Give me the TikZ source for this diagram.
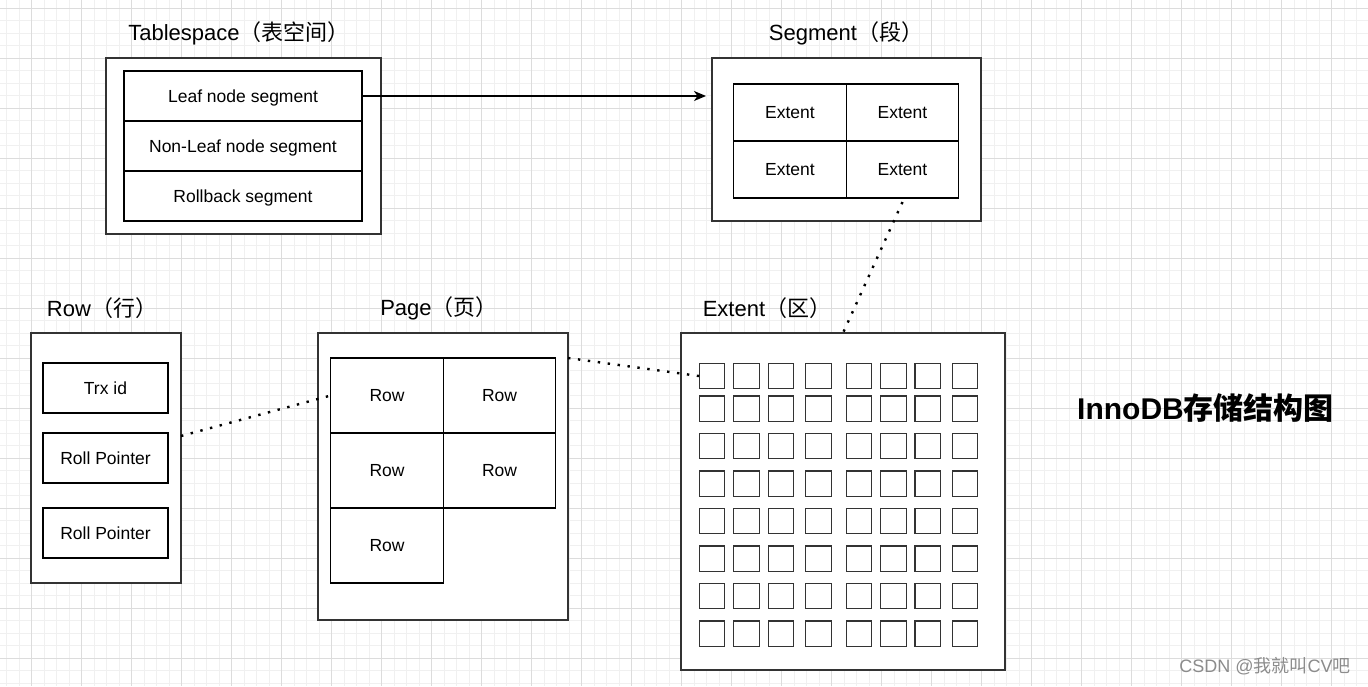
\documentclass[tikz,border=0pt]{standalone}
\usepackage{fontspec}
\setmainfont{Liberation Sans}
\newfontfamily\cjk{Noto Sans CJK SC}
\usetikzlibrary{arrows.meta}
\definecolor{gridminor}{HTML}{F0F0F0}
\definecolor{gridmajor}{HTML}{DCDCDC}
\definecolor{boxline}{HTML}{333333}
\tikzset{
  outerbox/.style={draw=boxline, line width=1.5pt, fill=white, inner sep=0pt, outer sep=0pt},
  cellbox/.style={draw=black, line width=1.1pt, fill=white, inner sep=0pt, outer sep=0pt,
    font=\fontsize{17.5}{20}\selectfont, text height=12.6pt, text depth=0pt},
  titletext/.style={font=\fontsize{22}{26}\selectfont, inner sep=0pt},
  sqbox/.style={draw=boxline, line width=1.3pt, fill=white, minimum size=25.5pt, inner sep=0pt, outer sep=0pt},
  dotline/.style={line width=2.4pt, dash pattern=on 2.4pt off 7.6pt},
  minorline/.style={draw=gridminor, line width=0.8pt},
  majorline/.style={draw=gridmajor, line width=0.9pt}
}
\begin{document}
\begin{tikzpicture}[x=1pt,y=-1pt]
\useasboundingbox (0,0) rectangle (1368,686);
\fill[white] (0,0) rectangle (1368,686);
% grid
\foreach \i in {0,...,109} {\draw[minorline] ({6.7+12.5*\i},0) -- ({6.7+12.5*\i},686);}
\foreach \i in {0,...,54} {\draw[minorline] (0,{8+12.5*\i}) -- (1368,{8+12.5*\i});}
\foreach \i in {0,...,27} {\draw[majorline] ({31.7+50*\i},0) -- ({31.7+50*\i},686);}
\foreach \i in {0,...,13} {\draw[majorline] (0,{8+50*\i}) -- (1368,{8+50*\i});}

% Tablespace
\node[titletext] (tstitle) at (239,33.5) {Tablespace{\cjk（表空间）}};
\node[outerbox, minimum width=275pt, minimum height=176pt] (tsbox) at (243.5,146) {};
\node[cellbox, minimum width=238pt, minimum height=50pt] (leaf) at (243,96) {Leaf node segment};
\node[cellbox, minimum width=238pt, minimum height=50pt] (nonleaf) at (243,146) {Non-Leaf node segment};
\node[cellbox, minimum width=238pt, minimum height=50pt] (rollback) at (243,196) {Rollback segment};

% Segment
\node[titletext] (segtitle) at (846,33.5) {Segment{\cjk（段）}};
\node[outerbox, minimum width=269pt, minimum height=163pt] (segbox) at (846.5,139.5) {};
\node[cellbox, minimum width=112.5pt, minimum height=57pt] (e11) at (790,112.5) {Extent};
\node[cellbox, minimum width=112.5pt, minimum height=57pt] (e12) at (902.5,112.5) {Extent};
\node[cellbox, minimum width=112.5pt, minimum height=57pt] (e21) at (790,169.5) {Extent};
\node[cellbox, minimum width=112.5pt, minimum height=57pt] (e22) at (902.5,169.5) {Extent};

% Row
\node[titletext] (rowtitle) at (102,308.5) {Row{\cjk（行）}};
\node[outerbox, minimum width=150pt, minimum height=250pt] (rowbox) at (106,458) {};
\node[cellbox, minimum width=125pt, minimum height=50pt] (trx) at (105.5,388) {Trx id};
\node[cellbox, minimum width=125pt, minimum height=50pt] (rp1) at (105.5,458) {Roll Pointer};
\node[cellbox, minimum width=125pt, minimum height=50pt] (rp2) at (105.5,533) {Roll Pointer};

% Page
\node[titletext] (pagetitle) at (439,308.5) {Page{\cjk（页）}};
\node[outerbox, minimum width=250pt, minimum height=287pt] (pagebox) at (443,476.5) {};
\node[cellbox, minimum width=112.5pt, minimum height=75pt] (p11) at (387,395.5) {Row};
\node[cellbox, minimum width=112.5pt, minimum height=75pt] (p12) at (499.5,395.5) {Row};
\node[cellbox, minimum width=112.5pt, minimum height=75pt] (p21) at (387,470.5) {Row};
\node[cellbox, minimum width=112.5pt, minimum height=75pt] (p22) at (499.5,470.5) {Row};
\node[cellbox, minimum width=112.5pt, minimum height=75pt] (p31) at (387,545.5) {Row};

% Extent
\node[titletext] (exttitle) at (767,308.5) {Extent{\cjk（区）}};
\node[outerbox, minimum width=324pt, minimum height=337pt] (extbox) at (843,501.5) {};
\foreach \cx [count=\c] in {699.3,733.7,768.3,805.7,846.3,880.7,915,952.3} {
  \foreach \ry [count=\r] in {363.3,396,433.3,471,508.3,546,583.3,621} {
    \node[sqbox] (s-\r-\c) at ({\cx+12.75},{\ry+12.75}) {};
  }
}

% Title and watermark
\node[inner sep=0pt, font=\fontsize{30}{34}\selectfont\bfseries] (maintitle) at (1205.5,408) {InnoDB{\cjk\bfseries 存储结构图}};
\node[inner sep=0pt, text=black!45, font=\fontsize{18}{20}\selectfont] (wm) at (1265,666) {CSDN @{\cjk 我就叫}CV{\cjk 吧}};

% connectors
\draw[line width=1.2pt, -{Stealth[length=12pt,width=10pt,inset=3.5pt]}, shorten >=6pt] (leaf.east) -- (leaf.east -| segbox.west);
\draw[dotline] ([yshift=22pt]rowbox.east) -- (p11.west);
\draw[dotline] ([yshift=118.5pt]pagebox.east) -- (s-1-1.west);
\draw[dotline] ([yshift=-4pt]e22.south) -- (extbox.north);
\end{tikzpicture}
\end{document}
